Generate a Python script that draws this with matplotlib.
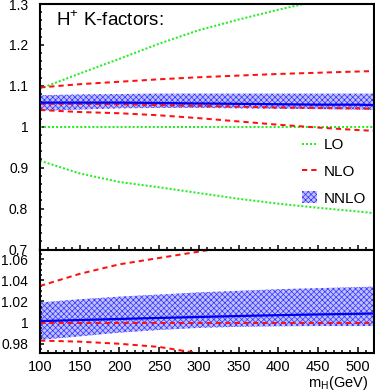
import matplotlib
matplotlib.use("Agg")
import matplotlib.pyplot as plt
from matplotlib.ticker import MultipleLocator, FuncFormatter
import numpy as np

plt.rcParams['font.family'] = ['Liberation Sans', 'DejaVu Sans']
plt.rcParams['mathtext.fontset'] = 'custom'
plt.rcParams['mathtext.rm'] = 'Liberation Sans'
plt.rcParams['hatch.linewidth'] = 0.5

# ---------------- data ----------------
mass = [100, 150, 200, 250, 300, 350, 400, 450, 500, 520]

# top panel: K-factors
lo_up   = [1.093, 1.130, 1.166, 1.203, 1.236, 1.262, 1.286, 1.308, 1.328, 1.336]
lo_mid  = [1.000, 1.000, 1.000, 1.000, 1.000, 1.000, 1.000, 1.000, 1.000, 1.000]
lo_low  = [0.917, 0.886, 0.865, 0.852, 0.838, 0.824, 0.812, 0.802, 0.793, 0.789]

nlo_up  = [1.096, 1.104, 1.110, 1.116, 1.121, 1.125, 1.129, 1.132, 1.135, 1.136]
nlo_mid = [1.056, 1.056, 1.055, 1.053, 1.051, 1.049, 1.047, 1.046, 1.045, 1.044]
nlo_low = [1.041, 1.036, 1.033, 1.028, 1.021, 1.013, 1.005, 0.998, 0.992, 0.990]

nnlo_up  = [1.077, 1.079, 1.080, 1.081, 1.081, 1.081, 1.081, 1.081, 1.081, 1.081]
nnlo_mid = [1.059, 1.059, 1.059, 1.058, 1.057, 1.056, 1.055, 1.054, 1.054, 1.053]
nnlo_low = [1.039, 1.042, 1.045, 1.046, 1.046, 1.045, 1.044, 1.043, 1.042, 1.041]

# bottom panel: normalised to central NLO
r_nlo_up   = [1.0346, 1.046, 1.055, 1.061, 1.067, 1.073, 1.078, 1.082, 1.086, 1.088]
r_nlo_mid  = [1.000, 1.000, 1.000, 1.000, 1.000, 1.000, 1.000, 1.000, 1.000, 1.000]
r_nlo_low  = [0.983, 0.982, 0.980, 0.977, 0.971, 0.966, 0.960, 0.954, 0.949, 0.948]

r_nnlo_up  = [1.019, 1.022, 1.0245, 1.0265, 1.0285, 1.030, 1.0315, 1.0325, 1.0335, 1.034]
r_nnlo_mid = [1.0014, 1.0024, 1.0034, 1.0044, 1.0053, 1.0062, 1.0070, 1.0077, 1.0083, 1.0086]
r_nnlo_low = [0.9836, 0.987, 0.9905, 0.993, 0.995, 0.996, 0.9965, 0.9967, 0.9967, 0.9967]

top_yticks = [0.7, 0.8, 0.9, 1.0, 1.1, 1.2, 1.3]
bot_yticks = [0.98, 1.00, 1.02, 1.04, 1.06]
xticks = [100, 150, 200, 250, 300, 350, 400, 450, 500]

# ---------------- styles ----------------
W, H = 375, 391
DPI = 100
green = '#22ee22'
red = '#ff1010'
blue = '#0000ee'
band_face = '#c0c0ff'
band_hatch = '#3030ff'
lw = 1.45
dots = (0, (1, 1))
dashes = (0, (2.6, 2.0))

fig = plt.figure(figsize=(W / DPI, H / DPI), dpi=DPI)
left = 40 / W
width = 333.5 / W
ax1 = fig.add_axes([left, 1 - 249.5 / H, width, (249.5 - 4) / H])
ax2 = fig.add_axes([left, 1 - 353.3 / H, width, (353.3 - 249.5) / H])

fmt = FuncFormatter(lambda v, p: '%g' % round(v, 4))

def style(ax):
    for s in ax.spines.values():
        s.set_linewidth(1.5)
    ax.tick_params(which='both', direction='in', top=False, right=False, width=1.1)

# top panel
ax1.fill_between(mass, nnlo_low, nnlo_up, facecolor=band_face, edgecolor=band_hatch,
                 hatch='xxxxxx', linewidth=0, label='NNLO', zorder=1)
ax1.plot(mass, nnlo_mid, color=blue, lw=1.6, zorder=3)
l_lo, = ax1.plot(mass, lo_up, color=green, lw=lw, ls=dots, label='LO', zorder=2)
ax1.plot(mass, lo_mid, color=green, lw=lw, ls=dots, zorder=2)
ax1.plot(mass, lo_low, color=green, lw=lw, ls=dots, zorder=2)
l_nlo, = ax1.plot(mass, nlo_up, color=red, lw=lw, ls=dashes, label='NLO', zorder=2)
ax1.plot(mass, nlo_mid, color=red, lw=lw, ls=dashes, zorder=2)
ax1.plot(mass, nlo_low, color=red, lw=lw, ls=dashes, zorder=2)

ax1.set_xlim(100, 520)
ax1.set_ylim(0.7, 1.3)
ax1.set_yticks(top_yticks)
ax1.yaxis.set_minor_locator(MultipleLocator(0.02))
ax1.xaxis.set_major_locator(MultipleLocator(50))
ax1.xaxis.set_minor_locator(MultipleLocator(10))
ax1.yaxis.set_major_formatter(fmt)
ax1.set_xticklabels([])
style(ax1)
ax1.tick_params(axis='y', which='major', length=3.0, pad=8.5, labelsize=10)
ax1.tick_params(axis='y', which='minor', length=1.6)
ax1.tick_params(axis='x', which='major', length=3.8)
ax1.tick_params(axis='x', which='minor', length=2.0)

handles, labels = ax1.get_legend_handles_labels()
order = [labels.index(k) for k in ['LO', 'NLO', 'NNLO']]
ax1.legend([handles[i] for i in order], [labels[i] for i in order],
           loc='upper left', bbox_to_anchor=((301.7 - 40) / 333.5, (249.5 - 138) / 245.5),
           frameon=False, fontsize=11, handlelength=1.0, handleheight=0.8,
           handletextpad=0.45, labelspacing=0.82, borderpad=0, borderaxespad=0)

fig.text(56 / W, 1 - 25.5 / H, r'H$^{\mathregular{+}}$ K-factors:', fontsize=13.5,
         va='baseline', ha='left')

# bottom panel
ax2.fill_between(mass, r_nnlo_low, r_nnlo_up, facecolor=band_face, edgecolor=band_hatch,
                 hatch='xxxxxx', linewidth=0, zorder=1)
ax2.plot(mass, r_nnlo_mid, color=blue, lw=1.6, zorder=3)
ax2.plot(mass, r_nlo_up, color=red, lw=lw, ls=dashes, zorder=2)
ax2.plot(mass, r_nlo_mid, color=red, lw=lw, ls=dashes, zorder=2)
ax2.plot(mass, r_nlo_low, color=red, lw=lw, ls=dashes, zorder=2)

ax2.set_xlim(100, 520)
ax2.set_ylim(0.971, 1.069)
ax2.set_yticks(bot_yticks)
ax2.set_xticks(xticks)
ax2.yaxis.set_minor_locator(MultipleLocator(0.005))
ax2.xaxis.set_minor_locator(MultipleLocator(10))
ax2.yaxis.set_major_formatter(fmt)
style(ax2)
ax2.tick_params(axis='y', which='major', length=3.0, pad=8.5, labelsize=10)
ax2.tick_params(axis='y', which='minor', length=1.6)
ax2.tick_params(axis='x', which='major', length=4.3, pad=4.5, labelsize=10.5)
ax2.tick_params(axis='x', which='minor', length=2.0)

fig.text(368 / W, 1 - 387 / H, r'm$_{\mathregular{H}}$(GeV)', fontsize=10.5,
         va='baseline', ha='right')

fig.savefig('out.png', dpi=DPI)
